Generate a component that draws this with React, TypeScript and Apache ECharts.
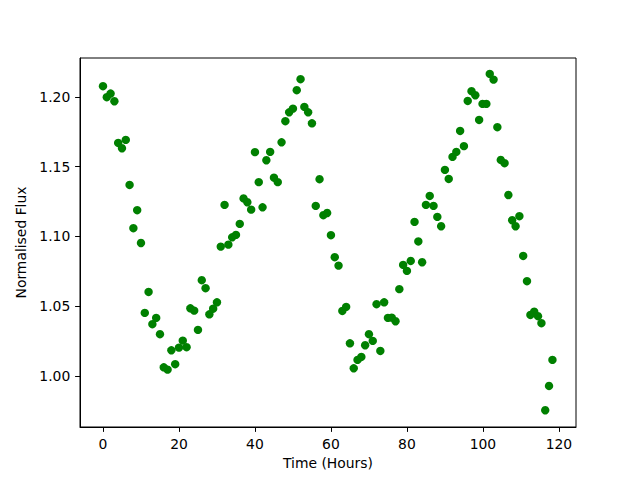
import React, { useEffect, useRef } from "react";
import * as echarts from "echarts";

const hours: number[] = [
  0, 1, 2, 3, 4, 5, 6, 7, 8, 9, 10, 11, 12, 13, 14, 15, 16, 17, 18, 19,
  20, 21, 22, 23, 24, 25, 26, 27, 28, 29, 30, 31, 32, 33, 34, 35, 36, 37, 38, 39,
  40, 41, 42, 43, 44, 45, 46, 47, 48, 49, 50, 51, 52, 53, 54, 55, 56, 57, 58, 59,
  60, 61, 62, 63, 64, 65, 66, 67, 68, 69, 70, 71, 72, 73, 74, 75, 76, 77, 78, 79,
  80, 81, 82, 83, 84, 85, 86, 87, 88, 89, 90, 91, 92, 93, 94, 95, 96, 97, 98, 99,
  99.9, 100.9, 101.8, 102.8, 103.8, 104.7, 105.7, 106.7, 107.7, 108.6, 109.6, 110.6, 111.6, 112.5, 113.5, 114.5, 115.4, 116.4, 117.4, 118.3,
];

const flux: number[] = [
  1.2077, 1.1998, 1.2024, 1.1969, 1.167, 1.1632, 1.1692, 1.1369, 1.1059, 1.1188,
  1.0953, 1.0452, 1.0602, 1.0371, 1.0416, 1.0299, 1.0062, 1.0045, 1.0184, 1.0084,
  1.0203, 1.0253, 1.0206, 1.0485, 1.0468, 1.033, 1.0686, 1.0629, 1.0442, 1.0482,
  1.0528, 1.0927, 1.1226, 1.0941, 1.0994, 1.1011, 1.109, 1.1272, 1.1245, 1.1192,
  1.1604, 1.1389, 1.1209, 1.1546, 1.1606, 1.1421, 1.1389, 1.1675, 1.1826, 1.189,
  1.1916, 1.2048, 1.2127, 1.1928, 1.189, 1.1811, 1.1219, 1.141, 1.1152, 1.1168,
  1.1009, 1.0851, 1.0791, 1.0466, 1.0495, 1.0234, 1.0055, 1.0115, 1.0136, 1.022,
  1.0299, 1.0251, 1.0514, 1.0179, 1.0528, 1.0416, 1.0418, 1.0392, 1.0622, 1.0796,
  1.0753, 1.0824, 1.1104, 1.0964, 1.0815, 1.1226, 1.129, 1.1219, 1.114, 1.1073,
  1.1477, 1.1412, 1.157, 1.1606, 1.1756, 1.1647, 1.1971, 1.2041, 1.2012, 1.1835,
  1.195, 1.195, 1.2165, 1.2124, 1.1783, 1.1548, 1.1525, 1.1297, 1.1116, 1.1073,
  1.1145, 1.086, 1.0679, 1.0437, 1.0461, 1.0428, 1.0378, 0.9754, 0.9928, 1.0115,
];

const xTicks: number[] = [0, 20, 40, 60, 80, 100, 120];
const yTicks: number[] = [1.0, 1.05, 1.1, 1.15, 1.2];

export default function App() {
  const ref = useRef<HTMLDivElement>(null);
  useEffect(() => {
    if (!ref.current) return;
    const chart = echarts.init(ref.current, null, { renderer: "svg" });
    const font = "DejaVu Sans";
    chart.setOption({
      animation: false,
      backgroundColor: "#fff",
      grid: {
        left: 80,
        right: 64,
        top: 58,
        bottom: 53,
        show: true,
        borderColor: "#000",
        borderWidth: 1,
        backgroundColor: "transparent",
      },
      xAxis: {
        type: "value",
        min: -6.05,
        max: 124.5,
        name: "Time (Hours)",
        nameLocation: "middle",
        nameGap: 29,
        nameTextStyle: { fontFamily: font, fontSize: 13.9, color: "#000" },
        axisLine: { show: true, onZero: false, lineStyle: { color: "#000", width: 1 } },
        axisTick: { show: true, length: 4.9, lineStyle: { color: "#000" }, customValues: xTicks },
        axisLabel: {
          show: true,
          margin: 9.7,
          color: "#000",
          fontFamily: font,
          fontSize: 13.9,
          customValues: xTicks,
          formatter: (v: number) => String(v),
        },
        splitLine: { show: false },
      },
      yAxis: {
        type: "value",
        min: 0.9634,
        max: 1.2279,
        name: "Normalised Flux",
        nameLocation: "middle",
        nameGap: 36,
        nameTextStyle: { fontFamily: font, fontSize: 13.9, color: "#000" },
        axisLine: { show: true, onZero: false, lineStyle: { color: "#000", width: 1 } },
        axisTick: { show: true, length: 4.9, lineStyle: { color: "#000" }, customValues: yTicks },
        axisLabel: {
          show: true,
          margin: 9.7,
          color: "#000",
          fontFamily: font,
          fontSize: 13.9,
          customValues: yTicks,
          formatter: (v: number) => v.toFixed(2),
        },
        splitLine: { show: false },
      },
      series: [
        {
          type: "scatter",
          data: hours.map((h, i) => [h, flux[i]]),
          symbol: "circle",
          symbolSize: 8.4,
          itemStyle: { color: "#008000", opacity: 1 },
        },
      ],
    });
    return () => chart.dispose();
  }, []);
  return <div ref={ref} style={{ width: 640, height: 480, position: "absolute", left: 0, top: 0 }} />;
}
